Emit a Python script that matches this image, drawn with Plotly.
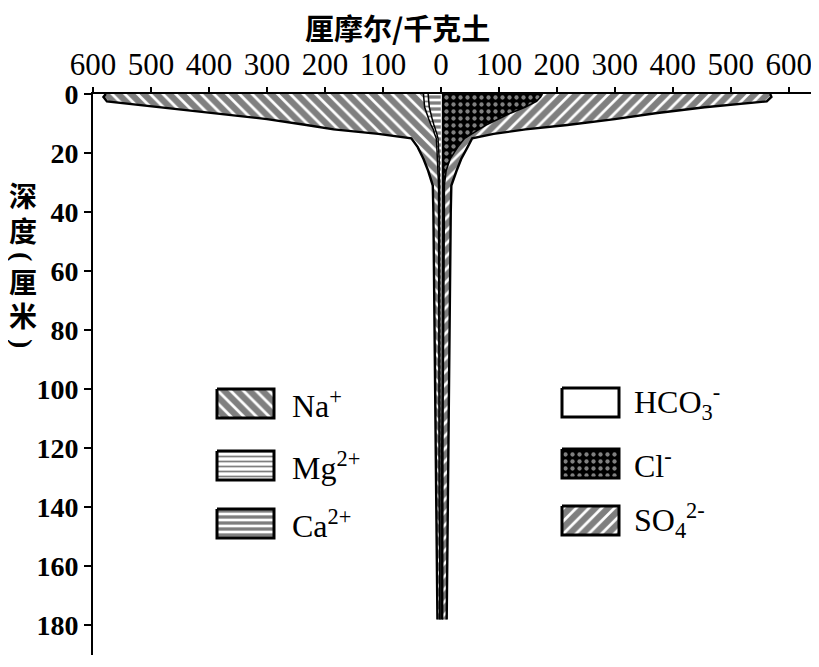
import numpy as np
import plotly.graph_objects as go

# ---------------- data ----------------
depth = [0, 1, 2.5, 4.5, 6.5, 8.5, 10.5, 12, 13.5, 15, 18, 22, 26, 31, 40, 60, 80, 100, 120, 140, 160, 178]
# cations (plotted to the left), cmol/kg soil
na = [548, 552, 547, 459, 375, 279, 215, 172, 97, 43, 33, 24, 17, 10, 9, 8, 7, 6, 6, 5, 5, 4]
mg = [8, 8, 8, 8, 7, 6, 5, 4, 4, 3, 3, 3, 2, 2, 2, 2, 2, 2, 1.5, 1.5, 1, 1]
ca = [22, 22, 21, 20, 18, 15, 12, 9, 7, 5, 4, 3, 3, 2, 2, 2, 2, 2, 1.5, 1.5, 1, 1]
# anions (plotted to the right)
hco3 = [3, 3, 3, 3, 3, 3, 3, 3, 3, 3, 3, 2, 2, 2, 2, 2, 2, 2, 1.5, 1.5, 1.5, 1.5]
cl = [172, 169, 162, 142, 117, 95, 75, 63, 50, 38, 26, 14, 7, 4, 4, 3, 3, 2, 2, 1.5, 1.5, 1.5]
so4 = [393, 398, 397, 310, 250, 202, 140, 80, 38, 13, 17, 19, 18, 12, 11, 11, 10, 10, 9.5, 9, 8, 7]

x_tick_vals = [-600, -500, -400, -300, -200, -100, 0, 100, 200, 300, 400, 500, 600]
x_tick_text = ["600", "500", "400", "300", "200", "100", "0", "100", "200", "300", "400", "500", "600"]
y_tick_vals = [0, 20, 40, 60, 80, 100, 120, 140, 160, 180]

x_title = "厘摩尔/千克土"
y_title_parts = [("深", 0), ("度", 0), ("(", 90), ("厘", 0), ("米", 0), (")", 90)]
legend_labels = ["Na<sup>+</sup>", "Mg<sup>2+</sup>", "Ca<sup>2+</sup>",
                 "HCO<sub>3</sub><sup>-</sup>", "Cl<sup>-</sup>", "SO<sub>4</sub><sup>2-</sup>"]

# ---------------- styles / geometry ----------------
SERIF = "Liberation Serif"
CJK = "Noto Sans CJK SC"
OFF = 8                      # page body margin of the html page
W, H = 819 - OFF, 667 - OFF
ML, MT = 93 - OFF, 94 - OFF
MR, MB = W - (812 - OFF), H - (655 - OFF)
PW, PH = W - ML - MR, H - MT - MB


def pat(shape, size, solidity, fg="black", bg="white"):
    return dict(shape=shape, size=size, solidity=solidity, fgcolor=fg, bgcolor=bg)


styles = {
    "na": dict(fillcolor="white", fillpattern=pat("\\", 9, 0.7)),
    "mg": dict(fillcolor="white", fillpattern=pat("-", 5, 0.35)),
    "ca": dict(fillcolor="white", fillpattern=pat("-", 6, 0.55)),
    "hco3": dict(fillcolor="white"),
    "cl": dict(fillcolor="black", fillpattern=pat(".", 7, 0.3, fg="white", bg="black")),
    "so4": dict(fillcolor="white", fillpattern=pat("/", 9, 0.7)),
}

# ---------------- stacking ----------------
ca_edge = -np.array(ca, float)
mg_edge = ca_edge - np.array(mg, float)
na_edge = mg_edge - np.array(na, float)
hco3_edge = np.array(hco3, float)
cl_edge = hco3_edge + np.array(cl, float)
so4_edge = cl_edge + np.array(so4, float)

fig = go.Figure()
line_in = dict(color="black", width=1.5)
line_out = dict(color="black", width=2.4)

fig.add_trace(go.Scatter(x=ca_edge, y=depth, mode="lines", fill="tozerox", line=line_in,
                         showlegend=False, **styles["ca"]))
fig.add_trace(go.Scatter(x=mg_edge, y=depth, mode="lines", fill="tonextx", line=line_in,
                         showlegend=False, **styles["mg"]))
fig.add_trace(go.Scatter(x=na_edge, y=depth, mode="lines", fill="tonextx", line=line_out,
                         showlegend=False, **styles["na"]))
fig.add_trace(go.Scatter(x=hco3_edge, y=depth, mode="lines", fill="tozerox", line=line_in,
                         showlegend=False, **styles["hco3"]))
fig.add_trace(go.Scatter(x=cl_edge, y=depth, mode="lines", fill="tonextx", line=line_in,
                         showlegend=False, **styles["cl"]))
fig.add_trace(go.Scatter(x=so4_edge, y=depth, mode="lines", fill="tonextx", line=line_out,
                         showlegend=False, **styles["so4"]))


# ---------------- custom legend swatches (overlay axes in plot-area fractions) ----------------
def fx(px):
    return (px - OFF - ML) / PW


def fy(py):
    return (MT + PH - (py - OFF)) / PH


sw_w, sw_h = 57, 29
legend_pos = [(217, 389), (217, 451), (217, 509), (562, 388), (562, 449), (562, 506)]
legend_gap = [16, 16, 16, 13, 13, 13]
legend_keys = ["na", "mg", "ca", "hco3", "cl", "so4"]
for key, (px, py), gap, lab in zip(legend_keys, legend_pos, legend_gap, legend_labels):
    xs = [fx(px), fx(px + sw_w), fx(px + sw_w), fx(px), fx(px)]
    ys = [fy(py), fy(py), fy(py + sw_h), fy(py + sw_h), fy(py)]
    fig.add_trace(go.Scatter(x=xs, y=ys, xaxis="x2", yaxis="y2", mode="lines", fill="toself",
                             line=dict(color="black", width=3), showlegend=False, **styles[key]))
    fig.add_annotation(x=fx(px + sw_w + gap), y=fy(py + sw_h / 2), xref="paper", yref="paper",
                       text=lab, showarrow=False, xanchor="left", yanchor="middle",
                       font=dict(family=SERIF, size=32, color="black"))

# titles
fig.add_annotation(x=fx(397), y=fy(27.5), xref="paper", yref="paper", text=x_title, showarrow=False,
                   xanchor="center", yanchor="middle", borderpad=0,
                   font=dict(family=CJK, size=29, color="black", weight="bold"))
y_char_pos = [195, 230, 256, 281, 315, 343]
for (ch, ang), py in zip(y_title_parts, y_char_pos):
    fam = SERIF if ang else CJK
    fig.add_annotation(x=fx(23), y=fy(py), xref="paper", yref="paper", text=ch, showarrow=False,
                       xanchor="center", yanchor="middle", textangle=ang, borderpad=0,
                       font=dict(family=fam, size=28, color="black", weight="bold"))

fig.update_layout(
    width=W, height=H, margin=dict(l=ML, r=MR, t=MT, b=MB, autoexpand=False),
    paper_bgcolor="white", plot_bgcolor="white", showlegend=False, hovermode=False,
    xaxis=dict(range=[-600, 640], side="top", tickvals=x_tick_vals, ticktext=x_tick_text,
               ticks="outside", ticklen=5, tickwidth=1.5, tickcolor="black", automargin=False,
               showline=True, linewidth=2, linecolor="black", showgrid=False, zeroline=False,
               tickfont=dict(family=SERIF, size=31, color="black")),
    yaxis=dict(range=[190, 0], tickvals=y_tick_vals, ticks="outside", ticklen=7, tickwidth=1.5,
               tickcolor="black", showline=True, linewidth=2, linecolor="black", showgrid=False,
               zeroline=False, automargin=False,
               tickfont=dict(family=SERIF, size=28, color="black", weight="bold")),
    xaxis2=dict(overlaying="x", range=[0, 1], visible=False),
    yaxis2=dict(overlaying="y", range=[0, 1], visible=False),
)

fig.write_html("out.html")
